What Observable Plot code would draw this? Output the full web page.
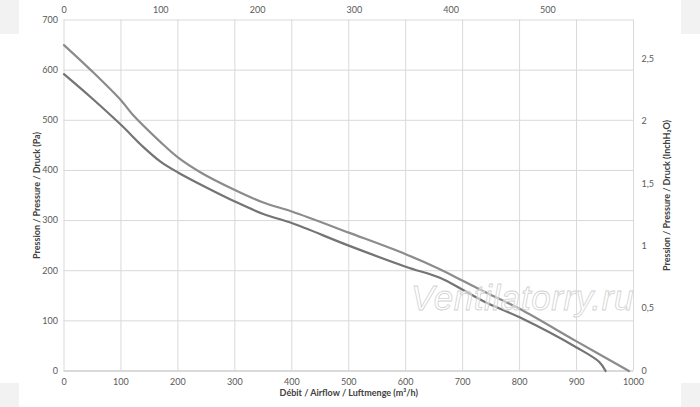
<!DOCTYPE html>
<html>
<head>
<meta charset="utf-8">
<script src="https://cdn.jsdelivr.net/npm/d3@7"></script>
<script src="https://cdn.jsdelivr.net/npm/@observablehq/plot@0.6"></script>
<style>
  html, body { margin: 0; padding: 0; background: #ffffff; }
  #wrap { position: relative; width: 700px; height: 407px; overflow: hidden; background: #ffffff; }
  .gray { position: absolute; background: #f2f2f2; }
  #chart { position: absolute; left: 0; top: 0; }
  #wm { position: absolute; left: 411px; top: 278px; font-family: "Liberation Sans", sans-serif; font-style: italic;
        font-size: 35px; color: rgba(255,255,255,0.5); -webkit-text-stroke: 0.8px #d2d2d2; letter-spacing: 0.6px; white-space: nowrap; }
</style>
</head>
<body>
<div id="wrap">
  <div class="gray" style="left:0;top:0;width:19px;height:34px"></div>
  <div class="gray" style="left:681px;top:0;width:19px;height:34px"></div>
  <div class="gray" style="left:0;top:383px;width:19px;height:24px"></div>
  <div class="gray" style="left:681px;top:383px;width:19px;height:24px"></div>
  <div id="chart"></div>
  <div id="wm">Ventilatorry.ru</div>
</div>
<script>
// Airflow (m³/h) and pressure (Pa) for the two curves
const upperQ = [0, 50, 100, 120, 170, 200, 240, 300, 350, 400, 500, 600, 660, 700, 740, 800, 900, 992];
const upperP = [650, 597, 540, 512, 456, 426, 396, 361, 336, 318, 276, 233, 203, 180, 157, 124, 59, 0];
const lowerQ = [0, 50, 100, 140, 170, 200, 250, 300, 350, 400, 500, 600, 660, 700, 740, 800, 900, 940, 951];
const lowerP = [592, 543, 491, 446, 417, 396, 366, 338, 313, 295, 250, 208, 186, 162, 137, 107, 47, 18, 0];

const xTicks = [0, 100, 200, 300, 400, 500, 600, 700, 800, 900, 1000];       // m³/h
const yTicks = [0, 100, 200, 300, 400, 500, 600, 700];                        // Pa
const cfmTicks = [0, 100, 200, 300, 400, 500];                                 // CFM (top)
const inchTicks = [0, 0.5, 1, 1.5, 2, 2.5];                                    // inH2O (right)
const CFM = 1.699;      // m³/h per CFM
const INCH = 249.0889;  // Pa per inH2O

const titleBottom = "Débit / Airflow / Luftmenge (m³/h)";
const titleTop = "Débit / Airflow / Luftmenge (CFM)";
const titleLeft = "Pression / Pressure / Druck (Pa)";
const titleRight = "Pression / Pressure / Druck (InchH₂O)";

const upper = upperQ.map((q, i) => ({q, p: upperP[i]}));
const lower = lowerQ.map((q, i) => ({q, p: lowerP[i]}));
const comma = v => String(v).replace(".", ",");

const chart = Plot.plot({
  width: 700,
  height: 407,
  marginLeft: 63.5,
  marginRight: 67,
  marginTop: 19.5,
  marginBottom: 36.5,
  style: {background: "transparent", fontFamily: "Lato, 'Open Sans', sans-serif", fontSize: "9px", color: "#595959", overflow: "visible"},
  x: {domain: [0, 1000]},
  y: {domain: [0, 700]},
  marks: [
    Plot.gridX(xTicks, {stroke: "#d9d9d9", strokeOpacity: 1, strokeWidth: 1}),
    Plot.gridY(yTicks, {stroke: "#d9d9d9", strokeOpacity: 1, strokeWidth: 1}),
    Plot.ruleY([0], {stroke: "#c8c8c8"}),
    Plot.axisX({anchor: "bottom", ticks: xTicks, tickFormat: d => String(d), tickSize: 0, tickPadding: 8, label: null}),
    Plot.axisX({anchor: "top", ticks: cfmTicks.map(v => v * CFM), tickFormat: v => String(Math.round(v / CFM)), tickSize: 0, tickPadding: 7, label: null}),
    Plot.axisY({anchor: "left", ticks: yTicks, tickFormat: d => String(d), tickSize: 0, tickPadding: 6, label: null}),
    Plot.axisY({anchor: "right", ticks: inchTicks.map(v => v * INCH), tickFormat: v => comma(Math.round(v / INCH * 10) / 10), tickSize: 0, tickPadding: 8, label: null}),
    Plot.line(upper, {x: "q", y: "p", stroke: "#8c8c8c", strokeWidth: 2.2, curve: "catmull-rom"}),
    Plot.line(lower, {x: "q", y: "p", stroke: "#747474", strokeWidth: 2.2, curve: "catmull-rom"}),
    Plot.text([titleBottom], {frameAnchor: "bottom", dy: 22.5, lineAnchor: "middle", textAnchor: "middle", fontWeight: "bold", fill: "#404040", fontSize: 9}),
    Plot.text([titleTop], {frameAnchor: "top", dy: -26, lineAnchor: "middle", textAnchor: "middle", fontWeight: "bold", fill: "#404040", fontSize: 9}),
    Plot.text([titleLeft], {frameAnchor: "left", dx: -27, rotate: -90, lineAnchor: "middle", textAnchor: "middle", fontWeight: "bold", fill: "#404040", fontSize: 9}),
    Plot.text([titleRight], {frameAnchor: "right", dx: 34, dy: 0, rotate: -90, lineAnchor: "middle", textAnchor: "middle", fontWeight: "bold", fill: "#404040", fontSize: 9})
  ]
});
document.getElementById("chart").appendChild(chart);
</script>
</body>
</html>
